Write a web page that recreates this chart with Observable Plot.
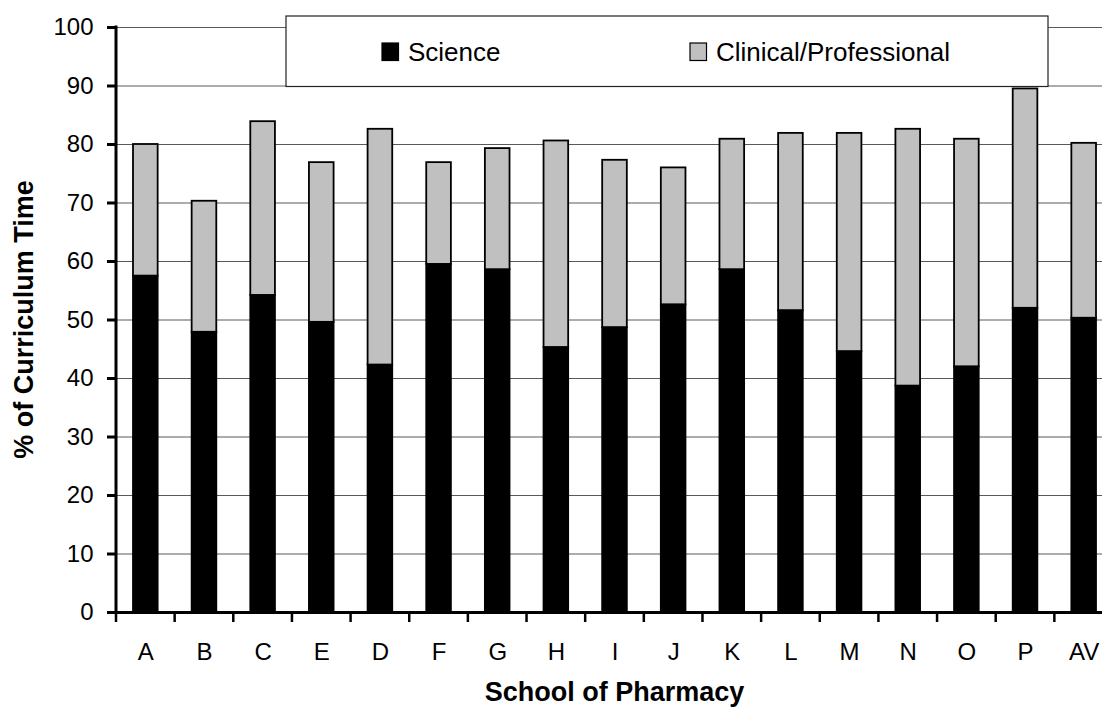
<!DOCTYPE html>
<html><head><meta charset="utf-8">
<script src="https://cdn.jsdelivr.net/npm/d3@7"></script>
<script src="https://cdn.jsdelivr.net/npm/@observablehq/plot@0.6"></script>
<style>html,body{margin:0;padding:0;background:#fff;overflow:hidden}</style>
</head><body><div id="chart"></div>
<script>
const schools = ["A","B","C","E","D","F","G","H","I","J","K","L","M","N","O","P","AV"];
const science = [57.5,47.9,54.2,49.6,42.3,59.5,58.6,45.3,48.7,52.6,58.6,51.6,44.6,38.7,42.0,52.0,50.3];
const clinical = [22.5,22.4,29.7,27.3,40.3,17.4,20.7,35.3,28.6,23.4,22.3,30.3,37.3,43.9,38.9,37.5,29.9];
const seriesNames = ["Science","Clinical/Professional"];
const seriesColors = ["#000000","#c0c0c0"];
const yTicks = [0,10,20,30,40,50,60,70,80,90,100];
const yTitle = "% of Curriculum Time";
const xTitle = "School of Pharmacy";

const data = [];
schools.forEach((s,i)=>{
  data.push({school:s, series:seriesNames[0], value:science[i]});
  data.push({school:s, series:seriesNames[1], value:clinical[i]});
});

const W=1102, H=709;
const font = "'Liberation Sans', Arial, Helvetica, sans-serif";
const plot = Plot.plot({
  width: W, height: H,
  marginLeft: 116, marginRight: 0, marginTop: 27, marginBottom: 97,
  style: {fontFamily: font, fontSize: "24px", color: "#000", background: "#fff", overflow: "hidden"},
  x: {domain: schools, range: [116, 1113], padding: 0, round: false, label: null},
  y: {domain: [0,100], label: null},
  color: {domain: seriesNames, range: seriesColors},
  marks: [
    Plot.gridY(yTicks.filter(d=>d>0), {stroke:"#5a5a5a", strokeOpacity:1, strokeWidth:1}),
    Plot.barY(data, {x:"school", y:"value", fill:"series", stroke:"#000", strokeWidth:1.8, insetLeft:17, insetRight:17}),
    Plot.ruleY([0], {strokeWidth:3}),
    Plot.axisY(yTicks, {tickSize:9, tickPadding:14, strokeWidth:3, label:null, fontSize:24}),
    Plot.axisX({tickSize:0, tickPadding:30, label:null, fontSize:24})
  ]
});
document.getElementById("chart").appendChild(plot);

const svg = d3.select(plot);
const xs = plot.scale("x"), ys = plot.scale("y");
const y0 = ys.apply(0), y100 = ys.apply(100);
// y axis line
svg.append("line").attr("x1",116).attr("x2",116).attr("y1",y100-1.5).attr("y2",y0+1.5)
  .attr("stroke","#000").attr("stroke-width",3);
// x ticks at band boundaries
const bounds = schools.map(s=>xs.apply(s)).concat([xs.apply(schools[schools.length-1])+xs.bandwidth]);
svg.append("g").selectAll("line").data(bounds).join("line")
  .attr("x1",d=>d).attr("x2",d=>d).attr("y1",y0).attr("y2",y0+10)
  .attr("stroke","#000").attr("stroke-width",2.5);

// legend
const lg = svg.append("g").attr("text-anchor","start");
lg.append("rect").attr("x",286).attr("y",16).attr("width",762).attr("height",70.5)
  .attr("fill","#fff").attr("stroke","#222").attr("stroke-width",1.2);
const items = [{x:382},{x:690}];
seriesNames.forEach((n,i)=>{
  lg.append("rect").attr("x",items[i].x).attr("y",43).attr("width",16.5).attr("height",17.5)
    .attr("fill",seriesColors[i]).attr("stroke","#000").attr("stroke-width",1.2);
  lg.append("text").attr("x",items[i].x+26).attr("y",61).attr("text-anchor","start").text(n)
    .attr("font-family",font).attr("font-size",26).attr("fill","#000");
});

// titles
svg.append("text").attr("transform",`translate(33,${(y0+y100)/2}) rotate(-90)`)
  .attr("text-anchor","middle").attr("font-family",font).attr("font-weight","bold")
  .attr("font-size",27).text(yTitle);
svg.append("text").attr("x",(116+1113)/2).attr("y",701)
  .attr("text-anchor","middle").attr("font-family",font).attr("font-weight","bold")
  .attr("font-size",27).text(xTitle);
</script>
</body></html>
